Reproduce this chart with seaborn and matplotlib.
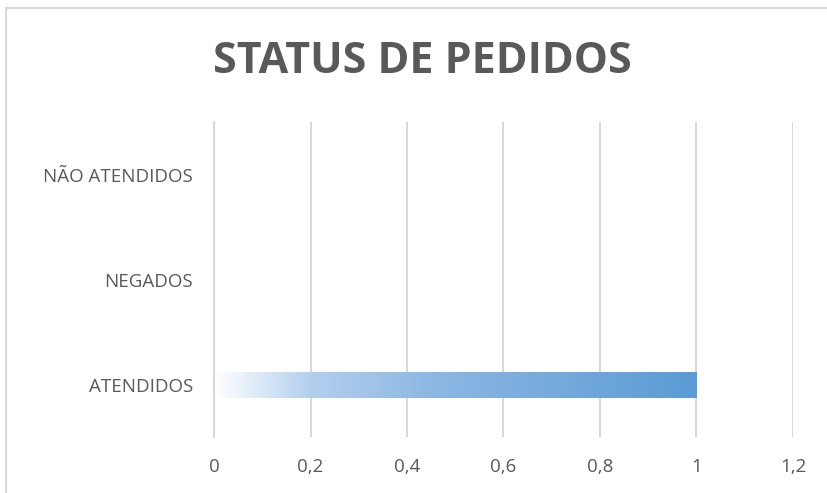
import matplotlib.pyplot as plt
import matplotlib.patches as mpatches
import seaborn as sns
import numpy as np
import pandas as pd
from matplotlib.colors import LinearSegmentedColormap

categories = ['NÃO ATENDIDOS', 'NEGADOS', 'ATENDIDOS']
values = [0, 0, 1]
x_ticks = [0, 0.2, 0.4, 0.6, 0.8, 1, 1.2]
x_labels = ['0', '0,2', '0,4', '0,6', '0,8', '1', '1,2']

df = pd.DataFrame({'status': categories, 'qtd': values})

sns.set_style('white')
plt.rcParams['font.family'] = ['Open Sans', 'DejaVu Sans']

fig = plt.figure(figsize=(8.27, 4.93), dpi=100)
ax = fig.add_axes([0.2588, 0.1126, 0.700, 0.639])

sns.barplot(data=df, x='qtd', y='status', order=categories, orient='h',
            width=0.24, color='#5B9BD5', ax=ax)

# gradient fill like the Excel bar
cmap = LinearSegmentedColormap.from_list(
    'excel', [(0, '#FFFFFF'), (0.2, '#B3CFEE'), (0.45, '#8DB8E3'), (1, '#5B9BD5')])
grad = np.linspace(0, 1, 256).reshape(1, -1)
for p in ax.patches:
    w = p.get_width()
    if w <= 0:
        continue
    x0, y0, h = p.get_x(), p.get_y(), p.get_height()
    im = ax.imshow(grad, cmap=cmap, aspect='auto', zorder=p.get_zorder(),
                   extent=[x0, x0 + w, y0 + h, y0], interpolation='bilinear')
    im.set_clip_path(p)
    p.set_facecolor('none')
    p.set_edgecolor('none')

ax.set_xlim(0, 1.2)
ax.set_ylim(2.5, -0.5)
ax.set_xticks(x_ticks)
ax.set_xticklabels(x_labels)
ax.xaxis.grid(True, color='#D9D9D9', linewidth=1.5)
ax.set_axisbelow(True)
for s in ['top', 'right', 'bottom']:
    ax.spines[s].set_visible(False)
ax.spines['left'].set_color('#D9D9D9')
ax.spines['left'].set_linewidth(1.5)
ax.tick_params(axis='both', length=0, labelsize=13.5, labelcolor='#595959')
ax.tick_params(axis='x', pad=15)
ax.tick_params(axis='y', pad=15)
ax.set_xlabel('')
ax.set_ylabel('')

fig.text(0.511, 0.876, 'STATUS DE PEDIDOS', ha='center', va='center',
         fontsize=31, fontweight='bold', color='#595959')

# chart area border (top and left visible)
border = mpatches.Rectangle((6 / 827, -0.1), 1.2, 1.1 - 8 / 493,
                            transform=fig.transFigure, fill=False,
                            edgecolor='#D9D9D9', linewidth=1.5)
fig.patches.append(border)

fig.savefig('out.png', dpi=100)
